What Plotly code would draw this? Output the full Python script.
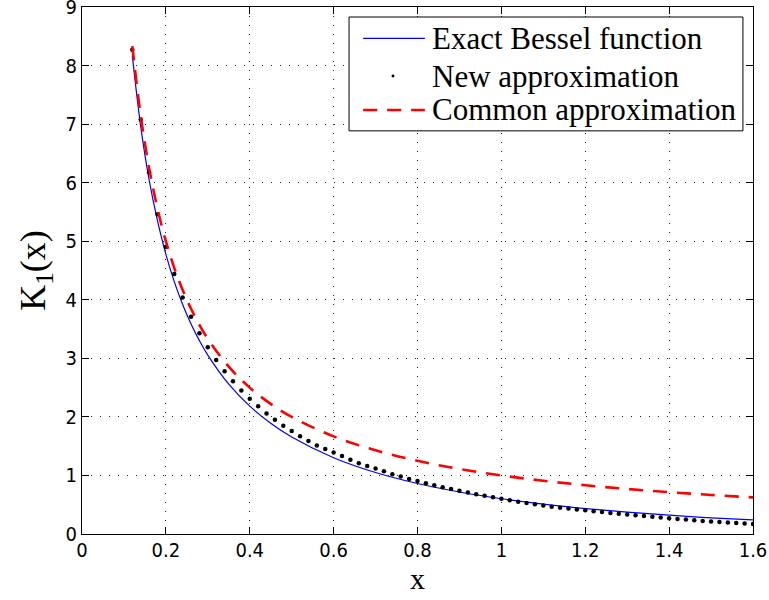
import plotly.graph_objects as go

# Exact K1(x), sampled along the curve
x_exact = [0.12, 0.14, 0.16, 0.18, 0.20, 0.22, 0.24, 0.26, 0.28, 0.30, 0.35, 0.40,
           0.45, 0.50, 0.60, 0.70, 0.80, 0.90, 1.00, 1.10, 1.20, 1.30, 1.40, 1.50, 1.60]
k1_exact = [8.17, 6.96, 6.05, 5.35, 4.776, 4.309, 3.919, 3.588, 3.303, 3.056, 2.559, 2.184,
            1.892, 1.656, 1.303, 1.050, 0.862, 0.717, 0.602, 0.509, 0.435, 0.373, 0.321, 0.277, 0.241]

# Common approximation K1(x) ~ 1/x, sampled on the same grid
k1_common = [8.333, 7.143, 6.25, 5.556, 5.0, 4.545, 4.167, 3.846, 3.571, 3.333, 2.857, 2.5,
             2.222, 2.0, 1.667, 1.429, 1.25, 1.111, 1.0, 0.909, 0.833, 0.769, 0.714, 0.667, 0.625]

# New approximation, evaluated every 0.02
x_new = [round(0.12 + 0.02 * i, 2) for i in range(75)]
k1_new = [8.27, 7.08, 6.18, 5.46, 4.90, 4.44, 4.04, 3.71, 3.43, 3.19,
          2.97, 2.78, 2.61, 2.45, 2.31, 2.18, 2.06, 1.95, 1.85, 1.76,
          1.67, 1.59, 1.51, 1.45, 1.39, 1.33, 1.27, 1.21, 1.16, 1.12,
          1.07, 1.02, 0.98, 0.94, 0.905, 0.868, 0.834, 0.800, 0.768, 0.737,
          0.708, 0.680, 0.653, 0.627, 0.602, 0.575, 0.551, 0.528, 0.506, 0.485,
          0.467, 0.450, 0.434, 0.419, 0.404, 0.389, 0.374, 0.359, 0.345, 0.332,
          0.319, 0.306, 0.293, 0.280, 0.268, 0.257, 0.246, 0.235, 0.224, 0.214,
          0.205, 0.196, 0.187, 0.178, 0.170]

x_ticks = [0, 0.2, 0.4, 0.6, 0.8, 1, 1.2, 1.4, 1.6]
y_ticks = [0, 1, 2, 3, 4, 5, 6, 7, 8, 9]

legend_labels = ["Exact Bessel function", "New approximation", "Common approximation"]

SERIF = "Liberation Serif, Times New Roman, serif"
TICKFONT = "Liberation Sans Narrow, DejaVu Sans Condensed, Arial Narrow, sans-serif"

fig = go.Figure()
fig.add_trace(go.Scatter(x=x_exact, y=k1_exact, mode="lines", line_shape="spline",
                         line=dict(color="#0000ff", width=1.2), showlegend=False))
fig.add_trace(go.Scatter(x=x_new, y=k1_new, mode="markers",
                         marker=dict(color="black", size=4.5), showlegend=False))
fig.add_trace(go.Scatter(x=x_exact, y=k1_common, mode="lines", line_shape="spline",
                         line=dict(color="#ff0000", width=2.6, dash="14px,10px"),
                         showlegend=False))

axis_common = dict(
    showline=True, linecolor="black", linewidth=1, mirror="allticks",
    ticks="inside", ticklen=7, tickcolor="black",
    showgrid=True, gridcolor="#222222", gridwidth=1, griddash="1px,8px",
    zeroline=False, automargin=False, ticklabeloverflow="allow",
    tickfont=dict(family=TICKFONT, size=20, color="black"),
)

fig.update_xaxes(range=[0, 1.6], tickvals=x_ticks, ticktext=[f"{v:g}" for v in x_ticks],
                 ticklabelstandoff=-2, **axis_common,
                 title=dict(text="x", font=dict(family=SERIF, size=30, color="black"),
                            standoff=6))
fig.update_yaxes(range=[0, 9], tickvals=y_ticks, ticktext=[str(v) for v in y_ticks],
                 ticklabelstandoff=0, **axis_common,
                 title=dict(text="K<sub>1</sub>(x)",
                            font=dict(family=SERIF, size=36, color="black"),
                            standoff=8))

# Legend box drawn in paper coordinates
shapes = [
    dict(type="rect", xref="paper", yref="paper", x0=0.398, x1=0.985, y0=0.765, y1=0.981,
         line=dict(color="black", width=1), fillcolor="white", layer="above"),
    dict(type="line", xref="paper", yref="paper", x0=0.419, x1=0.511, y0=0.9406, y1=0.9406,
         line=dict(color="#0000ff", width=1.2), layer="above"),
    dict(type="circle", xref="paper", yref="paper", x0=0.4635 - 0.0022, x1=0.4635 + 0.0022,
         y0=0.869 - 0.0028, y1=0.869 + 0.0028, line=dict(color="black", width=0),
         fillcolor="black", layer="above"),
    dict(type="line", xref="paper", yref="paper", x0=0.419, x1=0.511, y0=0.8046, y1=0.8046,
         line=dict(color="#ff0000", width=2.6, dash="14px,10px"), layer="above"),
]
annotations = [
    dict(text=lbl, xref="paper", yref="paper", x=0.519, y=yy, xanchor="left",
         yanchor="middle", showarrow=False,
         font=dict(family=SERIF, size=31, color="black"))
    for lbl, yy in zip(legend_labels, [0.9406, 0.869, 0.8046])
]

fig.update_layout(
    width=769, height=600,
    margin=dict(l=82, r=16, t=7, b=66),
    plot_bgcolor="white", paper_bgcolor="white",
    shapes=shapes, annotations=annotations,
    showlegend=False,
)

fig.write_html("out.html")
